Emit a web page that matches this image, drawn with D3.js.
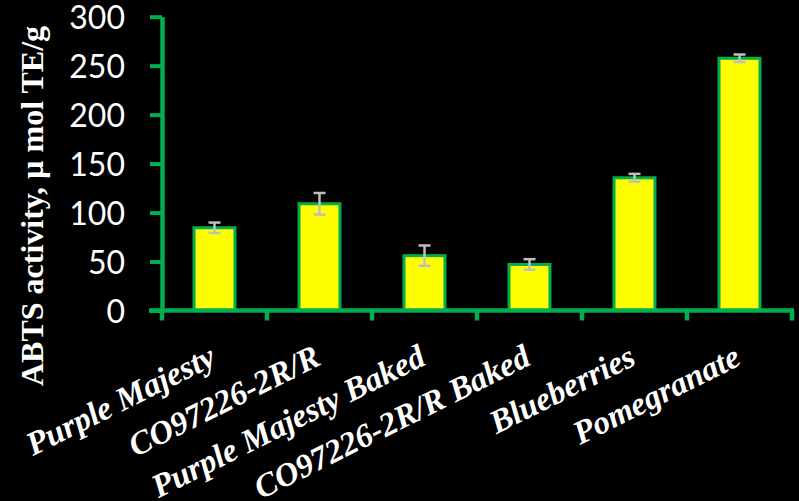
<!DOCTYPE html>
<html>
<head>
<meta charset="utf-8">
<script src="https://cdn.jsdelivr.net/npm/d3@7"></script>
<style>
  html, body { margin: 0; padding: 0; background: #000; }
  svg { display: block; }
</style>
</head>
<body>
<svg id="chart" width="799" height="501"></svg>
<script>
// ABTS antioxidant activity by sample
const categories = [
  "Purple Majesty",
  "CO97226-2R/R",
  "Purple Majesty Baked",
  "CO97226-2R/R Baked",
  "Blueberries",
  "Pomegranate"
];
const values = [84.5, 109, 56, 47, 135.5, 257.5];
const errors = [5.3, 11, 10.4, 5.4, 4, 3.9];
const yTicks = [0, 50, 100, 150, 200, 250, 300];
const yTitle = "ABTS activity, \u00b5 mol TE/g";

const W = 799, H = 501;
const plot = { left: 162, right: 792, top: 16.7, bottom: 310.5 };
const green = "#00B050";
const yellow = "#FFFF00";
const grey = "#BFBFBF";

const svg = d3.select("#chart");
svg.append("rect").attr("width", W).attr("height", H).attr("fill", "#000");

const x = d3.scaleBand().domain(categories).range([plot.left, plot.right]).padding(0);
const y = d3.scaleLinear().domain([0, 300]).range([plot.bottom, plot.top]);

const barW = x.bandwidth() * 0.39;

// bars
svg.append("g").selectAll("rect")
  .data(categories)
  .join("rect")
  .attr("x", (d) => x(d) + x.bandwidth() / 2 - barW / 2)
  .attr("y", (d, i) => y(values[i]))
  .attr("width", barW)
  .attr("height", (d, i) => y(0) - y(values[i]))
  .attr("fill", yellow)
  .attr("stroke", green)
  .attr("stroke-width", 3);

// error bars
const eb = svg.append("g").attr("stroke", grey).attr("stroke-width", 2.5);
categories.forEach((c, i) => {
  const cx = x(c) + x.bandwidth() / 2;
  const hi = y(values[i] + errors[i]);
  const lo = y(values[i] - errors[i]);
  eb.append("line").attr("x1", cx).attr("x2", cx).attr("y1", hi).attr("y2", lo);
  eb.append("line").attr("x1", cx - 6).attr("x2", cx + 6).attr("y1", hi).attr("y2", hi);
  eb.append("line").attr("x1", cx - 6).attr("x2", cx + 6).attr("y1", lo).attr("y2", lo);
});

// y axis
const yAxis = svg.append("g")
  .attr("transform", `translate(${plot.left},0)`)
  .call(d3.axisLeft(y).tickValues(yTicks).tickSize(12).tickSizeOuter(0).tickFormat(d3.format("d")));
yAxis.select(".domain").attr("stroke", green).attr("stroke-width", 4.5);
yAxis.selectAll(".tick line").attr("stroke", green).attr("stroke-width", 4);
yAxis.selectAll(".tick text")
  .attr("fill", "#fff")
  .attr("x", -37)
  .attr("dy", "0.36em")
  .style("font-family", "Lato, 'Open Sans', sans-serif")
  .style("font-size", "32px");

// x axis with ticks on category boundaries
const bounds = categories.map((c) => x(c)).concat([plot.right]);
const xAxisG = svg.append("g");
xAxisG.append("line")
  .attr("x1", plot.left - 13).attr("x2", plot.right + 2)
  .attr("y1", y(0)).attr("y2", y(0))
  .attr("stroke", green).attr("stroke-width", 4.5);
xAxisG.selectAll("line.tk")
  .data(bounds)
  .join("line")
  .attr("class", "tk")
  .attr("x1", (d) => d).attr("x2", (d) => d)
  .attr("y1", y(0)).attr("y2", y(0) + 10)
  .attr("stroke", green).attr("stroke-width", 4.5);

// rotated category labels
svg.append("g").selectAll("text")
  .data(categories)
  .join("text")
  .attr("transform", (d) => `translate(${x(d) + x.bandwidth() / 2 + 3},364) rotate(-26.5)`)
  .attr("text-anchor", "end")
  .attr("fill", "#fff")
  .style("font-family", "'Liberation Serif', 'Times New Roman', serif")
  .style("font-weight", "bold")
  .style("font-style", "italic")
  .style("font-size", "33px")
  .text((d) => d);

// y axis title
svg.append("text")
  .attr("transform", "translate(43,206) rotate(-90)")
  .attr("text-anchor", "middle")
  .attr("fill", "#fff")
  .style("font-family", "'Liberation Serif', 'Times New Roman', serif")
  .style("font-weight", "bold")
  .style("font-size", "32px")
  .text(yTitle);
</script>
</body>
</html>
